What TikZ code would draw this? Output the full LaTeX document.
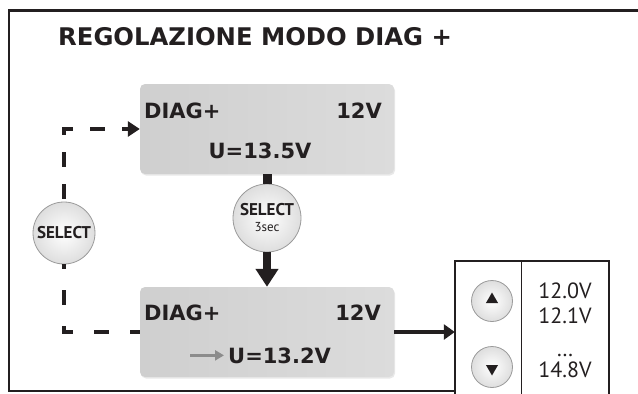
\documentclass[tikz,border=0pt]{standalone}
\usepackage{fontspec}
\setmainfont{DejaVu Sans}
\newfontfamily\ptsans{PT Sans}
\usetikzlibrary{arrows.meta, positioning, shapes.geometric, shadows}
\definecolor{inchiostro}{HTML}{231F20}
\definecolor{lcdscuro}{HTML}{CFCFCF}
\definecolor{lcdchiaro}{HTML}{DCDCDC}
\definecolor{bordotasto}{HTML}{9A9A9A}
\definecolor{grigiofreccia}{HTML}{8C8C8C}
\tikzset{
  every picture/.style={>=Stealth},
  cornice/.style={draw=inchiostro, line width=2.5pt},
  lcd/.style={left color=lcdscuro, right color=lcdchiaro, rounded corners=5pt,
              minimum width=254pt, minimum height=90pt,
              drop shadow={opacity=0.18, shadow xshift=1pt, shadow yshift=-1.5pt}},
  lcdtxt/.style={text=inchiostro, font=\bfseries\fontsize{21}{21}\selectfont, inner sep=0pt},
  tasto/.style={circle, draw=bordotasto, line width=0.8pt, inner color=white, outer color=black!13,
                inner sep=0pt, text=inchiostro},
  seltxt/.style={font=\ptsans\bfseries\fontsize{17}{16}\selectfont},
  colonna/.style={minimum height=134pt, inner sep=0pt},
  punta/.style={regular polygon, regular polygon sides=3, fill=inchiostro, minimum size=14pt, inner sep=0pt},
  valtxt/.style={text=inchiostro, font=\ptsans\fontsize{22}{22}\selectfont, inner sep=0pt},
  tratteggio/.style={draw=inchiostro, line width=4pt, dash pattern=on 15pt off 17pt},
  freccia/.style={-{Triangle[length=11pt,width=15pt]}, draw=inchiostro, line width=4pt},
  frecciagrigia/.style={-{Triangle[length=9pt,width=10pt]}, draw=grigiofreccia, line width=3pt},
}

\begin{document}
\begin{tikzpicture}[x=1pt, y=-1pt]
  \useasboundingbox (0,0) rectangle (638,394);
  \draw[cornice] (638,10.5) -- (9,10.5) -- (9,391) -- (455,391);
  \node[anchor=base west, text=inchiostro, font=\bfseries\fontsize{24.3}{24.3}\selectfont, inner sep=0pt]
    (titolo) at (58,45) {REGOLAZIONE MODO DIAG +};

  \node[lcd] (LCDsu) at (267,129) {};
  \node[lcdtxt, anchor=base west] (diagsu) at (144,118) {DIAG+};
  \node[lcdtxt, anchor=base east] (voltsu) at (382,118) {12V};
  \node[lcdtxt, anchor=base] (usu) at (260,158) {U=13.5V};

  \node[lcd] (LCDgiu) at (267,332) {};
  \node[lcdtxt, anchor=base west] (diaggiu) at (144,320) {DIAG+};
  \node[lcdtxt, anchor=base east] (voltgiu) at (381,320) {12V};
  \node[lcdtxt, anchor=base west] (ugiu) at (228,363) {U=13.2V};
  \draw[frecciagrigia] ([xshift=-38pt]ugiu.west) -- ([xshift=-4pt]ugiu.west);

  \node[tasto, seltxt, minimum size=62pt] (sel) at (64,233) {SELECT};
  \node[tasto, seltxt, minimum size=68pt, align=center] (selsec) at (267,218)
    {SELECT\\{\ptsans\mdseries\fontsize{13}{13}\selectfont 3sec}};

  \draw[inchiostro, line width=9pt] (LCDsu.south) -- (selsec.north);
  \draw[inchiostro, line width=8pt, -{Triangle[length=18pt,width=22pt]}] (selsec.south) -- (LCDgiu.north);

  \draw[tratteggio, dash phase=8pt, {Triangle[length=12pt,width=15pt]}-] (LCDsu.west) -| (sel.north);
  \draw[tratteggio, dash pattern=on 15pt off 21pt, dash phase=5pt] (LCDgiu.west) -| (sel.south);

  \node[colonna, minimum width=66pt] (coltasti) at (488,328) {};
  \node[colonna, minimum width=87pt, right=0pt of coltasti] (colvalori) {};
  \draw[cornice, line width=2pt] (coltasti.south west) -- (coltasti.north west)
    -- (colvalori.north east) -- (colvalori.south east);
  \draw[inchiostro, line width=1pt] (colvalori.north west) -- (colvalori.south west);

  \draw[freccia] (LCDgiu.east) -- (LCDgiu.east -| coltasti.west);

  \node[tasto, minimum size=41pt] (su) at (492,301) {};
  \node[punta] (puntasu) at ([yshift=1.5pt]su.center) {};
  \node[tasto, minimum size=41pt] (giu) at (492,367) {};
  \node[punta, shape border rotate=180] (puntagiu) at ([yshift=-1.5pt]giu.center) {};

  \node[valtxt, anchor=base] (v120) at (565,298) {12.0V};
  \node[valtxt, anchor=base] (v121) at (565,323) {12.1V};
  \node[valtxt, anchor=base] (puntini) at (565,356) {…};
  \node[valtxt, anchor=base] (v148) at (565,377) {14.8V};
\end{tikzpicture}
\end{document}
